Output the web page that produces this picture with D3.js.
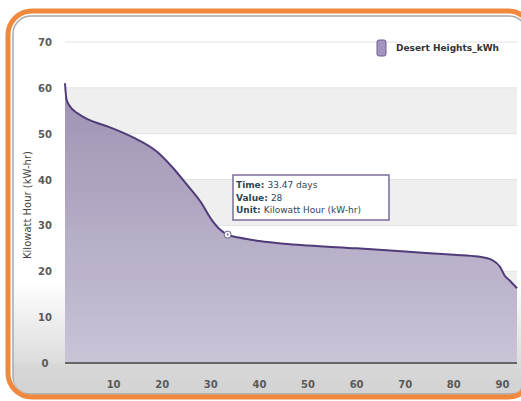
<!DOCTYPE html>
<html>
<head>
<meta charset="utf-8">
<script src="https://cdn.jsdelivr.net/npm/d3@7"></script>
<style>
  body { margin: 0; background: #fff; }
  text { font-family: "DejaVu Sans", sans-serif; }
</style>
</head>
<body>
<div id="chart"></div>
<script>
// values
const days = [0, 0.3, 1, 2.5, 5, 9, 14, 19, 22, 25, 28, 30, 32, 33.47, 36, 40, 45, 50, 60, 70, 80, 85, 88, 89.5, 90.5, 91.5, 93]
const kwh = [61, 57.5, 56, 54.5, 53, 51.5, 49.2, 46, 42.8, 39, 35, 31.5, 29, 28, 27.3, 26.6, 26, 25.6, 25, 24.3, 23.6, 23.2, 22.4, 21, 19, 18, 16.3]
const yTicks = [0, 10, 20, 30, 40, 50, 60, 70]
const xTicks = [10, 20, 30, 40, 50, 60, 70, 80, 90]
const seriesName = "Desert Heights_kWh"
const tipLines = [["Time: ", "33.47 days"], ["Value: ", "28"], ["Unit: ", "Kilowatt Hour (kW-hr)"]]
const tipPoint = { t: 33.47, v: 28 }

const width = 521, height = 401
const margin = { left: 65, right: 4, top: 42, bottom: 38 }

const svg = d3.select("#chart").append("svg")
    .attr("width", width)
    .attr("height", height)

const defs = svg.append("defs")
let bg = defs.append("linearGradient").attr("id", "bg")
    .attr("x1", 0).attr("y1", 0).attr("x2", 0).attr("y2", 1)
bg.append("stop").attr("offset", "0%").attr("stop-color", "#ffffff")
bg.append("stop").attr("offset", "70%").attr("stop-color", "#ffffff")
bg.append("stop").attr("offset", "100%").attr("stop-color", "#cfcfcf")

let areaGrad = defs.append("linearGradient").attr("id", "areaGrad")
    .attr("x1", 0).attr("y1", 0).attr("x2", 0).attr("y2", 1)
areaGrad.append("stop").attr("offset", "0%").attr("stop-color", "#9689ad")
areaGrad.append("stop").attr("offset", "100%").attr("stop-color", "#c6bfd4")

// panel + borders
svg.append("rect")
    .attr("x", 13).attr("y", 16).attr("width", 514).attr("height", 378)
    .attr("rx", 18)
    .attr("fill", "url(#bg)")
    .attr("stroke", "#a8a8a8")
    .attr("stroke-width", 1.5)

const x = d3.scaleLinear().domain([0, 93]).range([margin.left, width - margin.right])
const y = d3.scaleLinear().domain([0, 70]).range([height - margin.bottom, margin.top])

// bottom strip under the axis
svg.append("rect")
    .attr("x", 14).attr("y", y(0)).attr("width", 506).attr("height", 30)
    .attr("fill", "#d6d6d6").attr("opacity", 0.6)

// bands
const plot = svg.append("g")
plot.append("rect")
    .attr("x", x(0)).attr("y", y(70))
    .attr("width", x(93) - x(0)).attr("height", y(0) - y(70))
    .attr("fill", "#fff")
for (let i = 1; i < yTicks.length - 1; i += 2) {
    plot.append("rect")
        .attr("x", x(0)).attr("y", y(yTicks[i + 1]))
        .attr("width", x(93) - x(0))
        .attr("height", y(yTicks[i]) - y(yTicks[i + 1]))
        .attr("fill", "#efefef")
}
plot.selectAll(".grid").data(yTicks.slice(1)).enter()
    .append("line")
    .attr("x1", x(0)).attr("x2", x(93))
    .attr("y1", d => y(d)).attr("y2", d => y(d))
    .attr("stroke", "#e2e2e2")

const pts = days.map((d, i) => ({ t: d, v: kwh[i] }))

const area = d3.area()
    .x(d => x(d.t))
    .y0(y(0))
    .y1(d => y(d.v))
    .curve(d3.curveMonotoneX)
const line = d3.line()
    .x(d => x(d.t))
    .y(d => y(d.v))
    .curve(d3.curveMonotoneX)

svg.append("path").datum(pts)
    .attr("d", area)
    .attr("fill", "url(#areaGrad)")
    .attr("opacity", 0.92)
svg.append("path").datum(pts)
    .attr("d", line)
    .attr("fill", "none")
    .attr("stroke", "#4f3c78")
    .attr("stroke-width", 2)

// axis line
svg.append("line")
    .attr("x1", x(0)).attr("x2", x(93))
    .attr("y1", y(0)).attr("y2", y(0))
    .attr("stroke", "#666").attr("stroke-width", 2)

// tick labels
svg.selectAll(".ylab").data(yTicks).enter()
    .append("text")
    .attr("x", 45).attr("y", d => y(d) + 4)
    .attr("text-anchor", "middle")
    .attr("font-size", 10).attr("font-weight", "bold")
    .attr("fill", "#5a5a5a")
    .text(d => d)
svg.selectAll(".xlab").data(xTicks).enter()
    .append("text")
    .attr("x", d => x(d)).attr("y", 388)
    .attr("text-anchor", "middle")
    .attr("font-size", 10).attr("font-weight", "bold")
    .attr("fill", "#5a5a5a")
    .text(d => d)

svg.append("text")
    .attr("transform", "translate(31, 205) rotate(-90)")
    .attr("text-anchor", "middle")
    .attr("font-size", 10)
    .attr("fill", "#444")
    .text("Kilowatt Hour (kW-hr)")

// legend
svg.append("rect")
    .attr("x", 377).attr("y", 40).attr("width", 9).attr("height", 16)
    .attr("rx", 2)
    .attr("fill", "#a195bd").attr("stroke", "#6e5d92")
svg.append("text")
    .attr("x", 396).attr("y", 51)
    .attr("font-size", 9).attr("font-weight", "bold")
    .attr("fill", "#333")
    .text(seriesName)

// hover marker + tooltip
svg.append("circle")
    .attr("cx", x(tipPoint.t)).attr("cy", y(tipPoint.v))
    .attr("r", 3.5)
    .attr("fill", "#fff").attr("stroke", "#6a5a8c").attr("stroke-width", 1)
svg.append("circle")
    .attr("cx", x(tipPoint.t)).attr("cy", y(tipPoint.v))
    .attr("r", 1).attr("fill", "#6a5a8c")

svg.append("rect")
    .attr("x", 233).attr("y", 175).attr("width", 156).attr("height", 45)
    .attr("fill", "#fff")
    .attr("stroke", "#7b6b9b").attr("stroke-width", 1.5)
let tip = svg.append("text")
    .attr("font-size", 9).attr("fill", "#2d4656")
tipLines.forEach((l, i) => {
    let t = tip.append("tspan").attr("x", 236).attr("y", 188 + i * 12.5)
    t.append("tspan").attr("font-weight", "bold").text(l[0])
    t.append("tspan").text(l[1])
})

// orange frame
svg.append("rect")
    .attr("x", 8).attr("y", 11).attr("width", 524).attr("height", 386)
    .attr("rx", 24)
    .attr("fill", "none")
    .attr("stroke", "#f0883e")
    .attr("stroke-width", 5)
</script>
</body>
</html>
